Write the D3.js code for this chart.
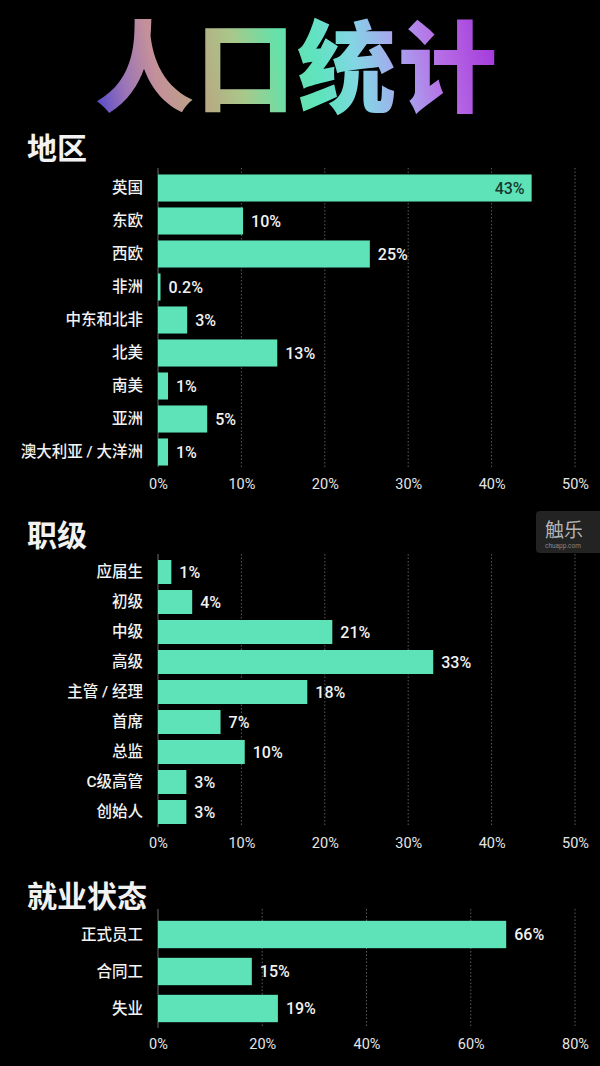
<!DOCTYPE html>
<html>
<head>
<meta charset="utf-8">
<script src="https://cdn.jsdelivr.net/npm/d3@7"></script>
<style>
  html, body { margin: 0; padding: 0; background: #000; }
  svg { display: block; }
</style>
</head>
<body>
<svg id="chart" width="600" height="1066"></svg>
<script>
// ---------- data ----------
const title = "人口统计";

const regionTitle = "地区";
const regionCategories = ["英国", "东欧", "西欧", "非洲", "中东和北非", "北美", "南美", "亚洲", "澳大利亚 / 大洋洲"];
const regionValues = [44.8, 10.2, 25.4, 0.3, 3.5, 14.3, 1.2, 5.9, 1.2];   // bar lengths as drawn (%)
const regionLabels = ["43%", "10%", "25%", "0.2%", "3%", "13%", "1%", "5%", "1%"];
const regionTicks = [0, 10, 20, 30, 40, 50];

const levelTitle = "职级";
const levelCategories = ["应届生", "初级", "中级", "高级", "主管 / 经理", "首席", "总监", "C级高管", "创始人"];
const levelValues = [1.6, 4.1, 20.9, 33.0, 17.9, 7.5, 10.4, 3.4, 3.4];
const levelLabels = ["1%", "4%", "21%", "33%", "18%", "7%", "10%", "3%", "3%"];
const levelTicks = [0, 10, 20, 30, 40, 50];

const employTitle = "就业状态";
const employCategories = ["正式员工", "合同工", "失业"];
const employValues = [66.8, 18.0, 23.0];
const employLabels = ["66%", "15%", "19%"];
const employTicks = [0, 20, 40, 60, 80];

// ---------- drawing ----------
const svg = d3.select("#chart");
const W = 600, H = 1066;
svg.append("rect").attr("width", W).attr("height", H).attr("fill", "#000");

const FONT = "Roboto, 'Noto Sans CJK SC', sans-serif";
const CJK = "'Noto Sans CJK SC', sans-serif";
const BAR = "#5ee3b9";
const TXT = "#f2f2f2";

// Title gradient
const defs = svg.append("defs");
const grad = defs.append("linearGradient")
  .attr("id", "titleGrad")
  .attr("gradientUnits", "userSpaceOnUse")
  .attr("x1", 95).attr("y1", 110).attr("x2", 500).attr("y2", 30);
[
  [0.00, "#5247c9"], [0.08, "#9a74b8"], [0.16, "#c4909a"], [0.26, "#b9a782"],
  [0.36, "#a8c88a"], [0.46, "#68e0a8"], [0.55, "#5fe3bf"], [0.64, "#82d6e4"],
  [0.74, "#a7a6ee"], [0.84, "#b76fe6"], [1.00, "#a232d9"]
].forEach(([o, c]) => grad.append("stop").attr("offset", o).attr("stop-color", c));

svg.append("text")
  .attr("x", 297).attr("y", 104)
  .attr("text-anchor", "middle")
  .attr("font-family", CJK)
  .attr("font-weight", 900)
  .attr("font-size", 99)
  .attr("letter-spacing", 2)
  .attr("fill", "url(#titleGrad)")
  .text(title);

const x0 = 158;

function section(cfg) {
  const { heading, headingY, cats, vals, labels, ticks, maxV, y0, step, inner, gridTop, gridBottom, tickY, insideFirst } = cfg;
  const g = svg.append("g");

  g.append("text")
    .attr("x", 27).attr("y", headingY)
    .attr("dominant-baseline", "central")
    .attr("font-family", CJK).attr("font-weight", 700).attr("font-size", 30)
    .attr("fill", TXT)
    .text(heading);

  const x = d3.scaleLinear().domain([0, maxV]).range([x0, 575]);
  const y = d3.scaleBand().domain(cats)
    .range([y0, y0 + step * cats.length])
    .paddingInner(inner).paddingOuter(inner / 2);

  // gridlines
  g.selectAll(".grid").data(ticks.filter(t => t > 0)).join("line")
    .attr("x1", d => x(d)).attr("x2", d => x(d))
    .attr("y1", gridTop).attr("y2", gridBottom)
    .attr("stroke", "#5a5a5a").attr("stroke-width", 1)
    .attr("stroke-dasharray", "1.5,2");

  // base axis line
  g.append("line")
    .attr("x1", x(0)).attr("x2", x(0))
    .attr("y1", gridTop).attr("y2", gridBottom)
    .attr("stroke", "#6a6a6a").attr("stroke-width", 1);

  // tick labels via d3 axis
  const axis = d3.axisBottom(x).tickValues(ticks).tickFormat(d => d + "%").tickSize(0).tickPadding(0);
  const ax = g.append("g").attr("transform", `translate(0,${tickY})`).call(axis);
  ax.select(".domain").remove();
  ax.selectAll("text")
    .attr("font-family", FONT).attr("font-size", 14.5).attr("fill", "#e6e6e6")
    .attr("dy", "0.35em").attr("y", 0);

  // bars
  g.selectAll(".bar").data(cats).join("rect")
    .attr("x", x(0))
    .attr("y", d => y(d))
    .attr("width", (d, i) => x(vals[i]) - x(0))
    .attr("height", y.bandwidth())
    .attr("fill", BAR);

  // category labels
  g.selectAll(".cat").data(cats).join("text")
    .attr("x", 143)
    .attr("y", d => y(d) + y.bandwidth() / 2)
    .attr("dy", "0.35em")
    .attr("text-anchor", "end")
    .attr("font-family", FONT).attr("font-weight", 500).attr("font-size", 15.5)
    .attr("fill", TXT)
    .text(d => d);

  // value labels
  g.selectAll(".val").data(cats).join("text")
    .attr("x", (d, i) => (insideFirst && i === 0) ? x(vals[i]) - 7 : x(vals[i]) + 8)
    .attr("y", d => y(d) + y.bandwidth() / 2)
    .attr("dy", "0.36em")
    .attr("text-anchor", (d, i) => (insideFirst && i === 0) ? "end" : "start")
    .attr("font-family", FONT).attr("font-weight", 500).attr("font-size", 16)
    .attr("fill", (d, i) => (insideFirst && i === 0) ? "#173a2e" : TXT)
    .text((d, i) => labels[i]);
}

section({
  heading: regionTitle, headingY: 146,
  cats: regionCategories, vals: regionValues, labels: regionLabels, ticks: regionTicks, maxV: 50,
  y0: 171.5, step: 33, inner: 0.18, gridTop: 168, gridBottom: 467, tickY: 484, insideFirst: true
});

section({
  heading: levelTitle, headingY: 533,
  cats: levelCategories, vals: levelValues, labels: levelLabels, ticks: levelTicks, maxV: 50,
  y0: 557, step: 30, inner: 0.2, gridTop: 554, gridBottom: 827, tickY: 843, insideFirst: false
});

section({
  heading: employTitle, headingY: 894,
  cats: employCategories, vals: employValues, labels: employLabels, ticks: employTicks, maxV: 80,
  y0: 916, step: 37, inner: 0.26, gridTop: 909, gridBottom: 1028, tickY: 1044, insideFirst: false
});

// watermark
const wm = svg.append("g");
wm.append("rect").attr("x", 536).attr("y", 511).attr("width", 70).attr("height", 42)
  .attr("rx", 4).attr("fill", "#232323");
wm.append("text").attr("x", 545).attr("y", 537)
  .attr("font-family", CJK).attr("font-size", 19).attr("fill", "#b5b5b5").text("触乐");
wm.append("text").attr("x", 545).attr("y", 548)
  .attr("font-family", FONT).attr("font-size", 6.5).attr("fill", "#888").text("chuapp.com");
</script>
</body>
</html>
